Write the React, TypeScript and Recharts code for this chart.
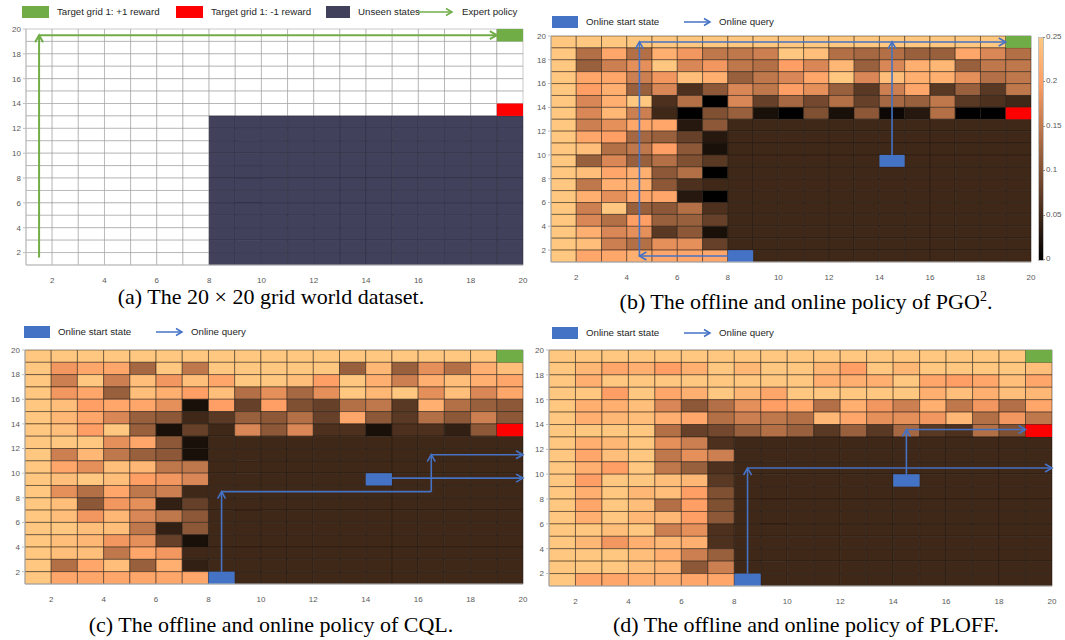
import React from 'react';
import { ComposedChart, XAxis, YAxis, ReferenceArea, ReferenceLine, Scatter } from 'recharts';

// Grid world: states on a 20 x 20 lattice, cells span [x, x+1] x [y, y+1]
const GRID_MIN = 1;
const GRID_MAX = 20;
const AXIS_TICKS = [2, 4, 6, 8, 10, 12, 14, 16, 18, 20];
const COLORBAR_TICKS = [0, 0.05, 0.1, 0.15, 0.2, 0.25];
const VALUE_MAX = 25; // state values stored in hundredths (0.25 -> 25)

// Dataset layout
const unseenRegion = { x1: 8, x2: 20, y1: 1, y2: 13 };
const goalCell = { x: 19, y: 19 };
const trapCell = { x: 19, y: 13 };
const startCells = [
  { x: 8, y: 1 },
  { x: 14, y: 9 },
];

// State values in hundredths, rows listed from y = 19 (top) down to y = 1, columns x = 1..19
const pgoRows: number[][] = [
  [25, 25, 25, 25, 25, 25, 25, 25, 25, 25, 25, 25, 25, 25, 25, 25, 25, 25, 25],
  [25, 14, 21, 14, 22, 19, 15, 15, 16, 25, 24, 14, 13, 14, 12, 12, 21, 17, 14],
  [25, 12, 16, 18, 25, 17, 19, 15, 14, 20, 17, 23, 12, 17, 22, 23, 12, 15, 15],
  [25, 21, 21, 16, 19, 24, 22, 12, 15, 17, 21, 25, 17, 24, 22, 22, 18, 14, 15],
  [25, 20, 22, 12, 17, 6, 11, 17, 15, 20, 18, 12, 7, 16, 21, 7, 12, 7, 15],
  [25, 17, 22, 25, 6, 14, 0, 17, 8, 13, 9, 14, 8, 13, 12, 15, 7, 6, 5],
  [25, 17, 23, 16, 5, 0, 10, 12, 2, 0, 10, 2, 11, 1, 3, 14, 0, 0, 5],
  [25, 16, 18, 21, 21, 3, 11, 5, 5, 5, 5, 5, 5, 5, 5, 5, 5, 5, 5],
  [25, 21, 20, 13, 12, 8, 3, 5, 5, 5, 5, 5, 5, 5, 5, 5, 5, 5, 5],
  [25, 24, 14, 15, 20, 11, 2, 5, 5, 5, 5, 5, 5, 5, 5, 5, 5, 5, 5],
  [25, 12, 17, 12, 14, 10, 7, 5, 5, 5, 5, 5, 5, 5, 5, 5, 5, 5, 5],
  [25, 24, 21, 22, 11, 14, 0, 5, 5, 5, 5, 5, 5, 5, 5, 5, 5, 5, 5],
  [25, 15, 22, 22, 11, 6, 5, 5, 5, 5, 5, 5, 5, 5, 5, 5, 5, 5, 5],
  [25, 22, 18, 21, 21, 3, 0, 5, 5, 5, 5, 5, 5, 5, 5, 5, 5, 5, 5],
  [25, 16, 25, 12, 11, 14, 6, 5, 5, 5, 5, 5, 5, 5, 5, 5, 5, 5, 5],
  [25, 17, 14, 20, 12, 12, 8, 5, 5, 5, 5, 5, 5, 5, 5, 5, 5, 5, 5],
  [25, 22, 17, 18, 7, 11, 2, 5, 5, 5, 5, 5, 5, 5, 5, 5, 5, 5, 5],
  [25, 24, 16, 14, 18, 18, 8, 5, 5, 5, 5, 5, 5, 5, 5, 5, 5, 5, 5],
  [25, 21, 21, 22, 21, 21, 21, 5, 5, 5, 5, 5, 5, 5, 5, 5, 5, 5, 5],
];

const cqlRows: number[][] = [
  [25, 25, 25, 25, 25, 25, 25, 25, 25, 25, 25, 25, 25, 25, 25, 25, 25, 25, 25],
  [25, 19, 21, 21, 13, 25, 15, 25, 25, 25, 25, 25, 12, 23, 12, 18, 14, 22, 24],
  [25, 16, 25, 16, 24, 19, 24, 21, 25, 25, 24, 20, 25, 22, 16, 22, 24, 22, 21],
  [25, 19, 21, 12, 24, 22, 20, 24, 14, 18, 13, 18, 25, 23, 25, 18, 24, 17, 21],
  [25, 24, 20, 21, 21, 18, 2, 20, 8, 20, 10, 8, 14, 15, 7, 22, 14, 12, 11],
  [25, 23, 21, 17, 12, 11, 5, 7, 12, 11, 14, 8, 21, 11, 7, 14, 11, 16, 11],
  [25, 24, 20, 25, 12, 2, 8, 5, 17, 11, 17, 6, 6, 2, 6, 6, 4, 11, 5],
  [25, 25, 25, 18, 21, 11, 2, 5, 5, 5, 5, 5, 5, 5, 5, 5, 5, 5, 5],
  [25, 16, 23, 15, 12, 11, 2, 5, 5, 5, 5, 5, 5, 5, 5, 5, 5, 5, 5],
  [25, 21, 18, 24, 23, 15, 15, 5, 5, 5, 5, 5, 5, 5, 5, 5, 5, 5, 5],
  [25, 24, 25, 24, 20, 19, 17, 5, 5, 5, 5, 5, 5, 5, 5, 5, 5, 5, 5],
  [25, 18, 14, 21, 15, 16, 5, 5, 5, 5, 5, 5, 5, 5, 5, 5, 5, 5, 5],
  [25, 24, 11, 19, 18, 4, 8, 5, 5, 5, 5, 5, 5, 5, 5, 5, 5, 5, 5],
  [25, 24, 19, 23, 17, 15, 11, 5, 5, 5, 5, 5, 5, 5, 5, 5, 5, 5, 5],
  [25, 25, 24, 24, 15, 4, 11, 5, 5, 5, 5, 5, 5, 5, 5, 5, 5, 5, 5],
  [25, 24, 23, 19, 18, 8, 2, 5, 5, 5, 5, 5, 5, 5, 5, 5, 5, 5, 5],
  [25, 24, 24, 15, 21, 19, 5, 5, 5, 5, 5, 5, 5, 5, 5, 5, 5, 5, 5],
  [25, 14, 21, 24, 12, 22, 4, 5, 5, 5, 5, 5, 5, 5, 5, 5, 5, 5, 5],
  [25, 21, 21, 21, 21, 21, 21, 5, 5, 5, 5, 5, 5, 5, 5, 5, 5, 5, 5],
];

const ploffRows: number[][] = [
  [25, 25, 25, 25, 25, 25, 25, 25, 25, 25, 25, 25, 25, 25, 25, 25, 25, 25, 25],
  [25, 23, 21, 22, 20, 22, 25, 23, 25, 25, 23, 20, 25, 23, 25, 25, 25, 25, 24],
  [25, 22, 25, 25, 25, 25, 25, 25, 25, 25, 22, 22, 22, 25, 21, 20, 21, 24, 21],
  [25, 25, 20, 25, 21, 22, 25, 23, 21, 25, 25, 25, 25, 25, 22, 24, 22, 24, 23],
  [25, 22, 22, 24, 17, 11, 14, 18, 20, 21, 14, 22, 19, 16, 22, 15, 19, 14, 21],
  [25, 22, 23, 24, 22, 21, 14, 16, 15, 14, 23, 21, 18, 18, 19, 23, 14, 19, 15],
  [25, 25, 25, 25, 14, 8, 9, 12, 14, 12, 7, 12, 7, 13, 7, 6, 14, 10, 5],
  [25, 22, 23, 25, 18, 16, 6, 5, 5, 5, 5, 5, 5, 5, 5, 5, 5, 5, 5],
  [25, 21, 24, 25, 15, 18, 16, 5, 5, 5, 5, 5, 5, 5, 5, 5, 5, 5, 5],
  [25, 22, 20, 25, 15, 12, 6, 5, 5, 5, 5, 5, 5, 5, 5, 5, 5, 5, 5],
  [25, 20, 25, 25, 24, 23, 7, 5, 5, 5, 5, 5, 5, 5, 5, 5, 5, 5, 5],
  [25, 22, 25, 23, 24, 20, 10, 5, 5, 5, 5, 5, 5, 5, 5, 5, 5, 5, 5],
  [25, 21, 25, 24, 14, 20, 10, 5, 5, 5, 5, 5, 5, 5, 5, 5, 5, 5, 5],
  [25, 22, 25, 23, 23, 20, 11, 5, 5, 5, 5, 5, 5, 5, 5, 5, 5, 5, 5],
  [25, 25, 24, 25, 16, 18, 6, 5, 5, 5, 5, 5, 5, 5, 5, 5, 5, 5, 5],
  [25, 23, 19, 22, 23, 22, 6, 5, 5, 5, 5, 5, 5, 5, 5, 5, 5, 5, 5],
  [25, 25, 25, 24, 22, 16, 12, 5, 5, 5, 5, 5, 5, 5, 5, 5, 5, 5, 5],
  [25, 25, 25, 24, 23, 11, 16, 5, 5, 5, 5, 5, 5, 5, 5, 5, 5, 5, 5],
  [25, 21, 21, 22, 22, 21, 21, 5, 5, 5, 5, 5, 5, 5, 5, 5, 5, 5, 5],
];

// Policy paths as grid-coordinate segments
type Seg = { x1: number; y1: number; x2: number; y2: number; head: boolean };
const expertPath: Seg[] = [
  { x1: 1.5, y1: 1.6, x2: 1.5, y2: 19.5, head: true },
  { x1: 1.5, y1: 19.5, x2: 19, y2: 19.5, head: true },
];
const pgoQueries: Seg[] = [
  { x1: 8, y1: 1.5, x2: 4.5, y2: 1.5, head: true },
  { x1: 4.5, y1: 1.5, x2: 4.5, y2: 19.5, head: true },
  { x1: 4.5, y1: 19.5, x2: 19, y2: 19.5, head: true },
  { x1: 14.5, y1: 10, x2: 14.5, y2: 19.5, head: true },
];
const cqlQueries: Seg[] = [
  { x1: 8.5, y1: 2, x2: 8.5, y2: 8.5, head: true },
  { x1: 8.5, y1: 8.5, x2: 16.5, y2: 8.5, head: false },
  { x1: 16.5, y1: 8.5, x2: 16.5, y2: 11.5, head: true },
  { x1: 16.5, y1: 11.5, x2: 20, y2: 11.5, head: true },
  { x1: 15, y1: 9.6, x2: 20, y2: 9.6, head: true },
];
const ploffQueries: Seg[] = [
  { x1: 8.5, y1: 2, x2: 8.5, y2: 10.5, head: true },
  { x1: 8.5, y1: 10.5, x2: 20, y2: 10.5, head: true },
  { x1: 14.5, y1: 10, x2: 14.5, y2: 13.6, head: true },
  { x1: 14.5, y1: 13.6, x2: 19, y2: 13.6, head: true },
];

const GREEN = '#70ad47';
const RED = '#ff0000';
const BLUE = '#4472c4';
const UNSEEN = '#41415b';
const SANS = '"Liberation Sans", Arial, sans-serif';
const SERIF = '"Liberation Serif", "Times New Roman", serif';

// copper colormap on [0, VALUE_MAX]
function copper(v: number): string {
  const t = Math.max(0, Math.min(1, v / VALUE_MAX));
  const r = Math.min(1, 1.25 * t);
  const g = 0.7812 * t;
  const b = 0.4975 * t;
  return `rgb(${Math.round(r * 255)},${Math.round(g * 255)},${Math.round(b * 255)})`;
}

type Cell = { x: number; y: number; fill: string; stroke: string };

function heatCells(rows: number[][]): Cell[] {
  return rows.flatMap((row, i) =>
    row.map((v, j) => ({ x: GRID_MIN + j, y: GRID_MAX - 1 - i, fill: copper(v), stroke: '#1c120b' }))
  );
}

function datasetCells(): Cell[] {
  const cells: Cell[] = [];
  for (let y = GRID_MAX - 1; y >= GRID_MIN; y--) {
    for (let x = GRID_MIN; x < GRID_MAX; x++) {
      const unseen = x >= unseenRegion.x1 && x < unseenRegion.x2 && y >= unseenRegion.y1 && y < unseenRegion.y2;
      cells.push({ x, y, fill: unseen ? UNSEEN : '#ffffff', stroke: unseen ? '#26263a' : '#8c8c8c' });
    }
  }
  return cells;
}

function arrowShape(color: string, width: number, head: boolean) {
  return (p: any) => {
    const { x1, y1, x2, y2 } = p;
    if ([x1, y1, x2, y2].some((n) => typeof n !== 'number' || Number.isNaN(n))) return <g />;
    const dx = x2 - x1;
    const dy = y2 - y1;
    const len = Math.hypot(dx, dy) || 1;
    const ux = dx / len;
    const uy = dy / len;
    const L = 7;
    const W = 4;
    const bx = x2 - ux * L;
    const by = y2 - uy * L;
    const pts = `${bx - uy * W},${by + ux * W} ${x2},${y2} ${bx + uy * W},${by - ux * W}`;
    return (
      <g>
        <line x1={x1} y1={y1} x2={x2} y2={y2} stroke={color} strokeWidth={width} />
        {head && <polyline points={pts} fill="none" stroke={color} strokeWidth={width} />}
      </g>
    );
  };
}

const hiddenPoint = () => <g />;

const tickStyle = { fontSize: 8, fill: '#595959', fontFamily: SANS };

type PanelProps = {
  left: number;
  top: number;
  width: number;
  height: number;
  yAxisWidth: number;
  marginTop: number;
  marginRight: number;
  cells: Cell[];
  paths: Seg[];
  pathColor: string;
  showStarts: boolean;
};

function GridPanel(props: PanelProps) {
  const { left, top, width, height, yAxisWidth, marginTop, marginRight, cells, paths, pathColor, showStarts } = props;
  return (
    <div style={{ position: 'absolute', left, top }}>
      <ComposedChart
        width={width}
        height={height}
        margin={{ top: marginTop, right: marginRight, bottom: 0, left: 0 }}
      >
        <XAxis
          type="number"
          dataKey="x"
          domain={[GRID_MIN, GRID_MAX]}
          ticks={AXIS_TICKS}
          interval={0}
          allowDataOverflow
          height={20}
          tick={tickStyle}
          tickLine={false}
          tickMargin={6}
          axisLine={{ stroke: '#bfbfbf' }}
        />
        <YAxis
          type="number"
          dataKey="y"
          domain={[GRID_MIN, GRID_MAX]}
          ticks={AXIS_TICKS}
          interval={0}
          allowDataOverflow
          width={yAxisWidth}
          tick={tickStyle}
          tickSize={3}
          tickMargin={2}
          tickLine={{ stroke: '#bfbfbf' }}
          axisLine={{ stroke: '#bfbfbf' }}
        />
        <Scatter data={cells} shape={hiddenPoint} isAnimationActive={false} legendType="none" />
        {cells.map((c) => (
          <ReferenceArea
            key={`c-${c.x}-${c.y}`}
            x1={c.x}
            x2={c.x + 1}
            y1={c.y}
            y2={c.y + 1}
            fill={c.fill}
            fillOpacity={1}
            stroke={c.stroke}
            strokeOpacity={0.6}
            strokeWidth={0.8}
          />
        ))}
        <ReferenceArea x1={goalCell.x} x2={goalCell.x + 1} y1={goalCell.y} y2={goalCell.y + 1} fill={GREEN} fillOpacity={1} />
        <ReferenceArea x1={trapCell.x} x2={trapCell.x + 1} y1={trapCell.y} y2={trapCell.y + 1} fill={RED} fillOpacity={1} />
        {showStarts &&
          startCells.map((s) => (
            <ReferenceArea key={`s-${s.x}-${s.y}`} x1={s.x} x2={s.x + 1} y1={s.y} y2={s.y + 1} fill={BLUE} fillOpacity={1} />
          ))}
        {paths.map((s, i) => (
          <ReferenceLine
            key={`p-${i}`}
            segment={[
              { x: s.x1, y: s.y1 },
              { x: s.x2, y: s.y2 },
            ]}
            stroke={pathColor}
            shape={arrowShape(pathColor, pathColor === GREEN ? 2 : 1.6, s.head)}
          />
        ))}
      </ComposedChart>
    </div>
  );
}

function LegendArrow({ left, top, color, width }: { left: number; top: number; color: string; width: number }) {
  return (
    <svg style={{ position: 'absolute', left, top }} width={width + 2} height={10}>
      <line x1={0} y1={5} x2={width} y2={5} stroke={color} strokeWidth={1.5} />
      <polyline points={`${width - 6},1.5 ${width},5 ${width - 6},8.5`} fill="none" stroke={color} strokeWidth={1.5} />
    </svg>
  );
}

function LegendText({ left, top, children }: { left: number; top: number; children: React.ReactNode }) {
  return (
    <div style={{ position: 'absolute', left, top, fontFamily: SANS, fontSize: 9.7, color: '#262626', whiteSpace: 'nowrap', lineHeight: '12px' }}>
      {children}
    </div>
  );
}

function Swatch({ left, top, w, h, color }: { left: number; top: number; w: number; h: number; color: string }) {
  return <div style={{ position: 'absolute', left, top, width: w, height: h, background: color }} />;
}

function OnlineLegend({ left, top }: { left: number; top: number }) {
  return (
    <>
      <Swatch left={left} top={top} w={26} h={12} color={BLUE} />
      <LegendText left={left + 34} top={top}>Online start state</LegendText>
      <LegendArrow left={left + 132} top={top + 1} color={BLUE} width={26} />
      <LegendText left={left + 167} top={top}>Online query</LegendText>
    </>
  );
}

function Caption({ center, top, children }: { center: number; top: number; children: React.ReactNode }) {
  return (
    <div
      style={{
        position: 'absolute',
        left: center - 260,
        width: 520,
        top,
        textAlign: 'center',
        fontFamily: SERIF,
        fontSize: 22,
        color: '#000',
        whiteSpace: 'nowrap',
        lineHeight: '26px',
      }}
    >
      {children}
    </div>
  );
}

function ColorBar({ left, top, height }: { left: number; top: number; height: number }) {
  const stops = Array.from({ length: 11 }, (_, i) => `${copper((VALUE_MAX * i) / 10)} ${i * 10}%`).join(', ');
  const maxTick = COLORBAR_TICKS[COLORBAR_TICKS.length - 1];
  return (
    <>
      <div
        style={{
          position: 'absolute',
          left,
          top,
          width: 4,
          height,
          background: `linear-gradient(to top, ${stops})`,
          border: '0.5px solid #bfbfbf',
        }}
      />
      {COLORBAR_TICKS.map((t) => {
        const y = top + height * (1 - t / maxTick);
        return (
          <React.Fragment key={t}>
            <div style={{ position: 'absolute', left: left + 5, top: y, width: 2, height: 1, background: '#8c8c8c' }} />
            <div style={{ position: 'absolute', left: left + 8, top: y - 5, fontFamily: SANS, fontSize: 8, color: '#595959', lineHeight: '10px' }}>
              {t}
            </div>
          </React.Fragment>
        );
      })}
    </>
  );
}

export default function App() {
  const dataset = datasetCells();
  return (
    <div style={{ position: 'absolute', left: 0, top: 0, width: 1065, height: 640, background: '#ffffff', overflow: 'hidden' }}>
      {/* (a) dataset legend */}
      <Swatch left={22} top={6} w={27} h={12} color={GREEN} />
      <LegendText left={57} top={6}>Target grid 1: +1 reward</LegendText>
      <Swatch left={176} top={6} w={27} h={12} color={RED} />
      <LegendText left={211} top={6}>Target grid 1: -1 reward</LegendText>
      <Swatch left={326} top={6} w={24} h={12} color={UNSEEN} />
      <LegendText left={358} top={6}>Unseen states</LegendText>
      <LegendArrow left={418} top={7} color={GREEN} width={34} />
      <LegendText left={462} top={6}>Expert policy</LegendText>

      <OnlineLegend left={552} top={16} />
      <OnlineLegend left={24} top={326} />
      <OnlineLegend left={552} top={327} />

      <GridPanel left={0} top={20} width={533} height={265} yAxisWidth={26} marginTop={9} marginRight={10}
        cells={dataset} paths={expertPath} pathColor={GREEN} showStarts={false} />
      <GridPanel left={520} top={26} width={521} height={256} yAxisWidth={31} marginTop={10} marginRight={10}
        cells={heatCells(pgoRows)} paths={pgoQueries} pathColor={BLUE} showStarts />
      <GridPanel left={0} top={340} width={533} height={264} yAxisWidth={25} marginTop={10} marginRight={10}
        cells={heatCells(cqlRows)} paths={cqlQueries} pathColor={BLUE} showStarts />
      <GridPanel left={520} top={340} width={540} height={266} yAxisWidth={29} marginTop={10} marginRight={8}
        cells={heatCells(ploffRows)} paths={ploffQueries} pathColor={BLUE} showStarts />

      <ColorBar left={1038} top={37} height={222} />

      <Caption center={271} top={284}>(a) The 20 × 20 grid world dataset.</Caption>
      <Caption center={806} top={284}>
        (b) The offline and online policy of PGO<sup style={{ fontSize: 14 }}>2</sup>.
      </Caption>
      <Caption center={271} top={612}>(c) The offline and online policy of CQL.</Caption>
      <Caption center={806} top={612}>(d) The offline and online policy of PLOFF.</Caption>
    </div>
  );
}
